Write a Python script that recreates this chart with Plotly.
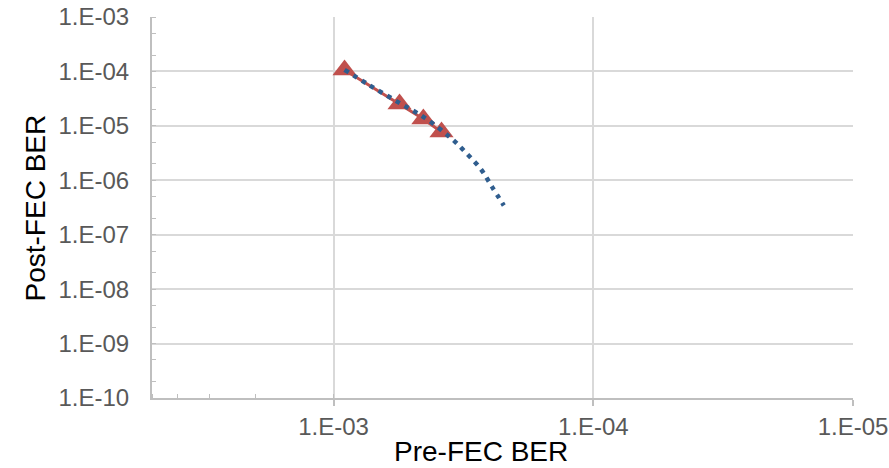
import plotly.graph_objects as go

# Measured points (red triangles)
pre_fec = [9.07e-4, 5.57e-4, 4.51e-4, 3.84e-4]
post_fec = [1.06e-4, 2.52e-5, 1.34e-5, 7.7e-6]

# Trend / fit curve (blue dotted)
fit_pre = [9.07e-4, 7.31e-4, 5.69e-4, 4.43e-4, 3.55e-4, 3.08e-4, 2.71e-4, 2.45e-4, 2.21e-4]
fit_post = [1.07e-4, 5.65e-5, 2.79e-5, 1.38e-5, 6.1e-6, 3.15e-6, 1.61e-6, 7.5e-7, 3.45e-7]

x_tickvals = [1e-3, 1e-4, 1e-5]
x_ticktext = ["1.E-03", "1.E-04", "1.E-05"]
y_tickvals = [1e-3, 1e-4, 1e-5, 1e-6, 1e-7, 1e-8, 1e-9, 1e-10]
y_ticktext = ["1.E-03", "1.E-04", "1.E-05", "1.E-06", "1.E-07", "1.E-08", "1.E-09", "1.E-10"]

RED = "#C0504D"
BLUE = "#2F5D8E"
GRID = "#D9D9D9"
AXIS = "#BFBFBF"
TICKFONT = dict(family="Liberation Sans, Arial, sans-serif", size=24, color="#595959")
TITLEFONT = dict(family="Liberation Sans, Arial, sans-serif", size=28, color="#000000")

fig = go.Figure()
fig.add_trace(go.Scatter(
    x=pre_fec, y=post_fec, mode="lines+markers",
    line=dict(color=RED, width=3),
    marker=dict(symbol="triangle-up", size=21, color=RED, line=dict(width=0)),
    showlegend=False, hoverinfo="skip",
))
fig.add_trace(go.Scatter(
    x=fit_pre, y=fit_post, mode="lines",
    line=dict(color=BLUE, width=4.5, dash="4.5px,5.5px", shape="spline"),
    showlegend=False, hoverinfo="skip",
))

fig.update_xaxes(
    type="log", range=[-2.30103, -5], automargin=False,
    tickvals=x_tickvals, ticktext=x_ticktext, tickfont=TICKFONT,
    ticks="outside", ticklen=6, tickcolor=AXIS, tickwidth=1.5,
    showgrid=True, gridcolor=GRID, gridwidth=1.5,
    showline=True, linecolor=AXIS, linewidth=2,
    minor=dict(ticks="inside", ticklen=4, tickcolor=AXIS, tickwidth=1.2, showgrid=False),
    zeroline=False,
)
fig.update_yaxes(
    type="log", range=[-10, -3], automargin=False,
    tickvals=y_tickvals, ticktext=y_ticktext, tickfont=TICKFONT,
    ticks="", ticklabelstandoff=16,
    showgrid=True, gridcolor=GRID, gridwidth=1.5,
    showline=True, linecolor=AXIS, linewidth=2,
    minor=dict(ticks="inside", ticklen=4, tickcolor=AXIS, tickwidth=1.2, showgrid=False),
    zeroline=False,
)

fig.add_annotation(text="Pre-FEC BER", xref="paper", yref="paper",
                   x=0.469, y=-0.140, xanchor="center", yanchor="middle",
                   showarrow=False, font=TITLEFONT)
fig.add_annotation(text="Post-FEC BER", xref="paper", yref="paper",
                   x=-0.1655, y=0.5, xanchor="center", yanchor="middle",
                   textangle=-90, showarrow=False, font=TITLEFONT)

fig.update_layout(
    width=889, height=468,
    margin=dict(l=152, r=36, t=17, b=70, autoexpand=False),
    paper_bgcolor="white", plot_bgcolor="white",
)

fig.write_html("out.html", config={"displayModeBar": False},
               post_script="document.body.style.margin='0';document.body.style.overflow='hidden';")
